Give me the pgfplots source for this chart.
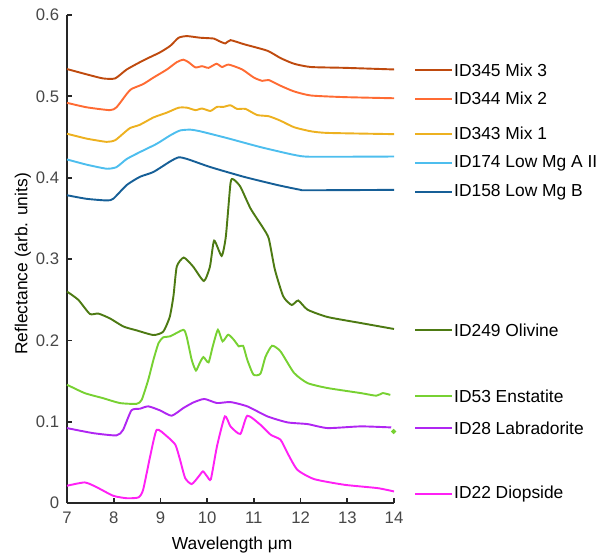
\documentclass[border=0pt]{standalone}
\usepackage{pgfplots}
\pgfplotsset{compat=1.18}
\usepackage{fontspec}
\setmainfont{Liberation Sans}

\definecolor{mixthree}{HTML}{BF4A0E}
\definecolor{mixtwo}{HTML}{FF6B33}
\definecolor{mixone}{HTML}{EDB120}
\definecolor{lowmga}{HTML}{4DBEEE}
\definecolor{lowmgb}{HTML}{165F97}
\definecolor{olivine}{HTML}{4D7A13}
\definecolor{enstatite}{HTML}{77D132}
\definecolor{labrador}{HTML}{B026F2}
\definecolor{diopside}{HTML}{FF20F5}
\definecolor{axgray}{HTML}{262626}

\begin{document}
\begin{tikzpicture}
\fontsize{10}{12}\selectfont
\begin{axis}[
    name=ax, at={(0,0)}, anchor=south west,
    scale only axis, width=188pt, height=280.6pt,
    xmin=7, xmax=14, ymin=0, ymax=0.6,
    axis lines=left, axis line style={-, axgray, line width=1pt},
    tick align=inside, major tick length=2.9pt,
    tick style={axgray, line width=1pt},
    xtick={7,8,...,14}, ytick={0,0.1,...,0.6},
    /pgf/number format/assume math mode=true,
    ticklabel style={font=\fontsize{9.6}{11}\selectfont, text=axgray!85!white},
    xticklabel style={yshift=-1.5pt},
    yticklabel style={xshift=-1pt},
    xlabel={Wavelength μm}, ylabel={Reflectance (arb. units)},
    label style={font=\fontsize{10.7}{12}\selectfont, text=axgray},
    every axis x label/.style={at={(axis description cs:0.505,-0.086)}, anchor=center},
    every axis y label/.style={at={(axis description cs:-0.135,0.49)}, rotate=90, anchor=center},
    clip=false,
    every axis plot/.append style={line width=1.1pt, smooth, tension=0.35},
]
% ID345 Mix 3
\addplot[mixthree] coordinates {
(7,0.5335) (7.42,0.527) (7.77,0.522) (8.03,0.522) (8.28,0.533) (8.63,0.544)
(8.99,0.554) (9.21,0.562) (9.39,0.572) (9.57,0.574) (9.85,0.572) (10.14,0.571)
(10.25,0.568) (10.39,0.565) (10.5,0.569) (10.79,0.564) (11.29,0.556) (11.57,0.547)
(11.86,0.540) (12.22,0.536) (12.94,0.535) (14,0.533)};
% ID344 Mix 2
\addplot[mixtwo] coordinates {
(7,0.492) (7.42,0.4865) (7.92,0.483) (8.06,0.4865) (8.28,0.503) (8.38,0.509)
(8.63,0.515) (8.85,0.523) (9.14,0.533) (9.35,0.542) (9.49,0.545) (9.6,0.542)
(9.75,0.5355) (9.89,0.537) (10.03,0.535) (10.2,0.540) (10.32,0.536) (10.46,0.539)
(10.75,0.533) (11.0,0.523) (11.18,0.519) (11.32,0.520) (11.57,0.513) (11.86,0.506)
(12.22,0.501) (12.94,0.499) (14,0.4976)};
% ID343 Mix 1
\addplot[mixone] coordinates {
(7,0.454) (7.42,0.448) (7.85,0.444) (8.03,0.446) (8.2,0.454) (8.35,0.461)
(8.56,0.465) (8.85,0.474) (9.14,0.480) (9.39,0.486) (9.57,0.486) (9.75,0.483)
(9.89,0.485) (10.07,0.482) (10.21,0.487) (10.35,0.487) (10.5,0.489) (10.64,0.4845)
(10.82,0.4845) (11.07,0.477) (11.32,0.4755) (11.57,0.470) (11.86,0.462) (12.22,0.457)
(12.58,0.455) (14,0.4535)};
% ID174 Low Mg A II
\addplot[lowmga] coordinates {
(7,0.4224) (7.42,0.416) (7.85,0.411) (8.06,0.413) (8.28,0.423) (8.56,0.4314)
(8.92,0.4416) (9.21,0.452) (9.42,0.458) (9.64,0.459) (9.85,0.457) (10.43,0.4486)
(11.14,0.4376) (11.86,0.428) (12.22,0.4257) (14,0.426)};
% ID158 Low Mg B
\addplot[lowmgb] coordinates {
(7,0.3784) (7.42,0.374) (7.85,0.372) (7.99,0.374) (8.28,0.391) (8.56,0.401)
(8.85,0.407) (9.21,0.420) (9.39,0.425) (9.57,0.423) (10.07,0.413) (10.79,0.401)
(11.5,0.391) (12.0,0.385) (12.15,0.3845) (14,0.385)};
% ID249 Olivine
\addplot[olivine] coordinates {
(7,0.260) (7.24,0.250) (7.49,0.2325) (7.67,0.233) (7.92,0.227) (8.21,0.217)
(8.49,0.2123) (8.85,0.2066) (9.06,0.2107) (9.2,0.229) (9.28,0.255) (9.35,0.2907)
(9.5,0.3018) (9.7,0.2907) (9.93,0.273) (10.06,0.2907) (10.15,0.3226) (10.31,0.3038)
(10.4,0.3276) (10.5,0.3932) (10.56,0.398) (10.71,0.389) (10.93,0.362) (11.2,0.338)
(11.32,0.325) (11.45,0.287) (11.63,0.254) (11.81,0.2435) (11.95,0.249) (12.15,0.2377)
(12.58,0.2287) (13.29,0.2213) (14,0.214)};
% ID53 Enstatite
\addplot[enstatite] coordinates {
(7,0.1455) (7.38,0.1352) (7.77,0.129) (8.13,0.123) (8.49,0.122) (8.6,0.127)
(8.74,0.1516) (8.85,0.176) (8.96,0.1967) (9.06,0.2037) (9.21,0.205) (9.49,0.213)
(9.56,0.205) (9.67,0.176) (9.76,0.163) (9.84,0.172) (9.92,0.1795) (10.03,0.173)
(10.12,0.1926) (10.23,0.213) (10.33,0.1988) (10.45,0.207) (10.57,0.2008) (10.68,0.1926)
(10.77,0.1934) (10.86,0.176) (10.99,0.158) (11.14,0.159) (11.25,0.180) (11.39,0.1934)
(11.57,0.1865) (11.86,0.160) (12.15,0.1475) (12.58,0.1414) (13.29,0.1352) (13.62,0.132)
(13.76,0.1352) (13.92,0.133)};
\addplot[enstatite, only marks, mark=*, mark size=0.8pt] coordinates {(13.99,0.088)};
% ID28 Labradorite
\addplot[labrador] coordinates {
(7,0.0922) (7.56,0.086) (8.06,0.0832) (8.2,0.090) (8.38,0.114) (8.56,0.116)
(8.74,0.1189) (8.99,0.114) (9.24,0.1074) (9.49,0.1168) (9.71,0.1238) (9.94,0.128)
(10.21,0.123) (10.5,0.1242) (10.86,0.1189) (11.29,0.1066) (11.72,0.0992) (12.15,0.0971)
(12.58,0.0922) (13.29,0.0943) (13.94,0.093)};
% ID22 Diopside
\addplot[diopside] coordinates {
(7,0.0213) (7.38,0.0254) (7.63,0.0197) (7.99,0.009) (8.28,0.006) (8.53,0.007)
(8.63,0.0164) (8.78,0.0574) (8.92,0.090) (9.14,0.0820) (9.32,0.0717) (9.42,0.0533)
(9.53,0.0307) (9.67,0.0234) (9.82,0.0328) (9.91,0.039) (10.0,0.0328) (10.08,0.0295)
(10.21,0.0697) (10.38,0.1066) (10.5,0.0943) (10.71,0.085) (10.86,0.1074) (11.14,0.0963)
(11.36,0.0840) (11.57,0.0779) (11.72,0.0615) (11.93,0.041) (12.29,0.0295) (12.94,0.0225)
(13.65,0.0184) (14,0.0143)};

% legend samples and labels
\addplot[mixthree, sharp plot] coordinates {(14.45,0.5326) (15.24,0.5326)};
\addplot[mixtwo, sharp plot] coordinates {(14.45,0.497) (15.24,0.497)};
\addplot[mixone, sharp plot] coordinates {(14.45,0.454) (15.24,0.454)};
\addplot[lowmga, sharp plot] coordinates {(14.45,0.418) (15.24,0.418)};
\addplot[lowmgb, sharp plot] coordinates {(14.45,0.3825) (15.24,0.3825)};
\addplot[olivine, sharp plot] coordinates {(14.45,0.2128) (15.24,0.2128)};
\addplot[enstatite, sharp plot] coordinates {(14.45,0.1316) (15.24,0.1316)};
\addplot[labrador, sharp plot] coordinates {(14.45,0.0923) (15.24,0.0923)};
\addplot[diopside, sharp plot] coordinates {(14.45,0.0111) (15.24,0.0111)};
\begin{scope}[every node/.style={anchor=west, inner sep=0pt, font=\fontsize{10}{12}\selectfont}]
\node at (axis cs:15.28,0.5326) {ID345 Mix 3};
\node at (axis cs:15.28,0.497) {ID344 Mix 2};
\node at (axis cs:15.28,0.454) {ID343 Mix 1};
\node at (axis cs:15.28,0.418) {ID174 Low Mg A II};
\node at (axis cs:15.28,0.3825) {ID158 Low Mg B};
\node at (axis cs:15.28,0.2128) {ID249 Olivine};
\node at (axis cs:15.28,0.1316) {ID53 Enstatite};
\node at (axis cs:15.28,0.0923) {ID28 Labradorite};
\node at (axis cs:15.28,0.0111) {ID22 Diopside};
\end{scope}
\end{axis}
\pgfresetboundingbox
\path[use as bounding box] (-38.5pt,-31pt) rectangle (311pt,289.2pt);
\end{tikzpicture}
\end{document}
